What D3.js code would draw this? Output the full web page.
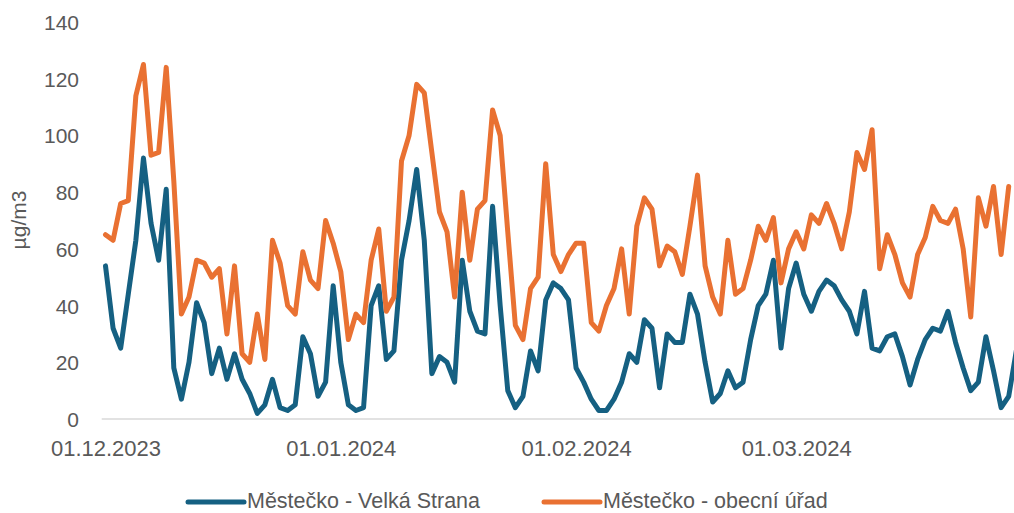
<!DOCTYPE html>
<html>
<head>
<meta charset="utf-8">
<script src="https://cdn.jsdelivr.net/npm/d3@7"></script>
<style>
  html, body { margin: 0; padding: 0; background: #ffffff; }
  svg { display: block; }
  text { font-family: "Liberation Sans", Arial, sans-serif; fill: #595959; }
</style>
</head>
<body>
<svg id="chart" width="1014" height="513"></svg>
<script>
// Daily concentrations, starting 1 December 2023 (µg/m3)
const startDate = new Date(2023, 11, 1);

const velkaStrana = [
  54, 32, 25, 44, 63, 92, 69, 56, 81, 18,
  7, 20, 41, 34, 16, 25, 14, 23, 14, 9,
  2, 5, 14, 4, 3, 5, 29, 23, 8, 13,
  47, 20, 5, 3, 4, 40, 47, 21, 24, 56,
  70, 88, 63, 16, 22, 20, 13, 56, 38, 31,
  30, 75, 40, 10, 4, 8, 24, 17, 42, 48,
  46, 42, 18, 13, 7, 3, 3, 7, 13, 23,
  20, 35, 32, 11, 30, 27, 27, 44, 37, 20,
  6, 9, 17, 11, 13, 28, 40, 44, 56, 25,
  46, 55, 44, 38, 45, 49, 47, 42, 38, 30,
  45, 25, 24, 29, 30, 22, 12, 21, 28, 32,
  31, 38, 27, 18, 10, 13, 29, 17, 4, 8,
  24
];

const obecniUrad = [
  65, 63, 76, 77, 114, 125, 93, 94, 124, 84,
  37, 43, 56, 55, 50, 53, 30, 54, 23, 20,
  37, 21, 63, 55, 40, 37, 59, 49, 46, 70,
  62, 52, 28, 37, 34, 56, 67, 38, 43, 91,
  100, 118, 115, 94, 73, 66, 43, 80, 56, 74,
  77, 109, 100, 66, 33, 28, 46, 50, 90, 58,
  52, 58, 62, 62, 34, 31, 40, 46, 60, 37,
  68, 78, 74, 54, 61, 59, 51, 68, 86, 54,
  43, 37, 63, 44, 46, 56, 68, 63, 71, 48,
  60, 66, 60, 72, 69, 76, 69, 60, 73, 94,
  88, 102, 53, 65, 58, 48, 43, 58, 64, 75,
  70, 69, 74, 60, 36, 78, 68, 82, 58, 82
];

const seriesNames = ["Městečko - Velká Strana", "Městečko - obecní úřad"];
const seriesColors = ["#156082", "#E97132"];

const xTickLabels = ["01.12.2023", "01.01.2024", "01.02.2024", "01.03.2024"];
const yTicks = [0, 20, 40, 60, 80, 100, 120, 140];
const yTitle = "µg/m3";

const dayOf = i => d3.timeDay.offset(startDate, i);
const parseLabel = d3.timeParse("%d.%m.%Y");
const fmtLabel = d3.timeFormat("%d.%m.%Y");

const svg = d3.select("#chart");

// Plot area: one band per day from 1 Dec to 31 Mar, each point in its band centre
const halfDay = 12 * 60 * 60 * 1000;
const x = d3.scaleTime()
  .domain([new Date(startDate.getTime() - halfDay), new Date(new Date(2024, 3, 1).getTime() - halfDay)])
  .range([101.7, 101.7 + 122 * 7.59]);

const y = d3.scaleLinear().domain([0, 140]).range([419, 22]);

// Baseline
svg.append("line")
  .attr("x1", x.range()[0]).attr("x2", x.range()[1])
  .attr("y1", y(0)).attr("y2", y(0))
  .attr("stroke", "#d9d9d9").attr("stroke-width", 1.5);

// Y axis labels
const yAxis = d3.axisLeft(y).tickValues(yTicks).tickSize(0).tickPadding(0);
const gy = svg.append("g").attr("transform", "translate(79,0)").call(yAxis);
gy.select(".domain").remove();
gy.selectAll("text")
  .attr("font-size", 21)
  .attr("dy", null)
  .attr("y", 7.5)
  .style("font-family", "\"Liberation Sans\", Arial, sans-serif")
  .attr("fill", "#595959");

// X axis labels at the first day of each month
const xAxis = d3.axisBottom(x)
  .tickValues(xTickLabels.map(parseLabel))
  .tickFormat(fmtLabel)
  .tickSize(0).tickPadding(0);
const gx = svg.append("g").attr("transform", "translate(0,419)").call(xAxis);
gx.select(".domain").remove();
gx.selectAll("text")
  .attr("font-size", 22)
  .attr("dy", null)
  .attr("y", 37)
  .style("font-family", "\"Liberation Sans\", Arial, sans-serif")
  .attr("fill", "#595959");

// Y axis title
svg.append("text")
  .attr("transform", "translate(26,220) rotate(-90)")
  .attr("text-anchor", "middle")
  .attr("font-size", 21)
  .text(yTitle);

// Series lines
const line = d3.line()
  .x((d, i) => x(dayOf(i)))
  .y(d => y(d));

[velkaStrana, obecniUrad].forEach((vals, k) => {
  svg.append("path")
    .datum(vals)
    .attr("d", line)
    .attr("fill", "none")
    .attr("stroke", seriesColors[k])
    .attr("stroke-width", 5)
    .attr("stroke-linejoin", "round")
    .attr("stroke-linecap", "round");
});

// Legend
const legendItems = [
  { x1: 188, x2: 244, tx: 247 },
  { x1: 544, x2: 600, tx: 603 }
];
legendItems.forEach((p, k) => {
  svg.append("line")
    .attr("x1", p.x1).attr("x2", p.x2)
    .attr("y1", 502).attr("y2", 502)
    .attr("stroke", seriesColors[k])
    .attr("stroke-width", 5)
    .attr("stroke-linecap", "round");
  svg.append("text")
    .attr("x", p.tx).attr("y", 508)
    .attr("font-size", 21.5)
    .text(seriesNames[k]);
});
</script>
</body>
</html>
